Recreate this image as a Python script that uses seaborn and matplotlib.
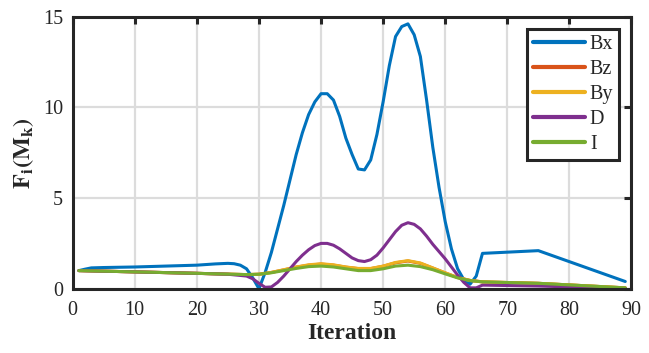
import numpy as np
import pandas as pd
import matplotlib
matplotlib.use('Agg')
import matplotlib.pyplot as plt
import seaborn as sns

# Values
bx_x = [1, 2, 3, 5, 10, 15, 20, 23, 25, 26, 27, 28, 29, 30, 31, 32, 33, 34, 35, 36, 37, 38, 39, 40,
        41, 42, 43, 44, 45, 46, 47, 48, 49, 50, 51, 52, 53, 54, 55, 56, 57, 58, 59, 60, 61, 62, 63,
        64, 65, 66, 75, 89]
bx_y = [1.0, 1.08, 1.15, 1.17, 1.2, 1.25, 1.3, 1.37, 1.4, 1.38, 1.3, 1.1, 0.6, 0.0, 0.9, 2.0, 3.3,
        4.6, 6.0, 7.4, 8.6, 9.6, 10.3, 10.75, 10.75, 10.4, 9.5, 8.3, 7.4, 6.6, 6.55, 7.1, 8.5, 10.3,
        12.3, 13.9, 14.45, 14.6, 14.0, 12.8, 10.4, 7.8, 5.6, 3.7, 2.2, 1.1, 0.5, 0.25, 0.7, 1.95,
        2.1, 0.4]

d_x = [1, 10, 20, 25, 28, 29, 30, 31, 32, 33, 34, 35, 36, 37, 38, 39, 40, 41, 42, 43, 44, 45, 46,
       47, 48, 49, 50, 51, 52, 53, 54, 55, 56, 57, 58, 59, 60, 61, 62, 63, 64, 65, 66, 75, 89]
d_y = [1.0, 0.93, 0.85, 0.8, 0.7, 0.55, 0.3, 0.08, 0.1, 0.35, 0.7, 1.1, 1.5, 1.85, 2.15, 2.38, 2.5,
       2.5, 2.4, 2.2, 1.95, 1.7, 1.55, 1.5, 1.6, 1.85, 2.25, 2.7, 3.15, 3.5, 3.64, 3.55, 3.3, 2.9,
       2.45, 2.05, 1.65, 1.2, 0.75, 0.35, 0.05, 0.05, 0.2, 0.15, 0.02]

s_x = [1, 10, 20, 28, 30, 32, 34, 36, 38, 40, 42, 44, 46, 48, 50, 52, 54, 56, 58, 60, 62, 64, 66,
       75, 89]
i_y = [1.0, 0.93, 0.85, 0.78, 0.8, 0.88, 1.0, 1.12, 1.22, 1.25, 1.2, 1.1, 1.0, 1.0, 1.1, 1.25,
       1.3, 1.22, 1.05, 0.82, 0.6, 0.45, 0.38, 0.3, 0.05]
by_y = [1.0, 0.93, 0.85, 0.78, 0.8, 0.9, 1.05, 1.2, 1.32, 1.38, 1.32, 1.2, 1.12, 1.12, 1.25, 1.45,
        1.55, 1.42, 1.15, 0.88, 0.62, 0.46, 0.38, 0.3, 0.05]
bz_y = [1.0, 0.93, 0.85, 0.78, 0.8, 0.9, 1.04, 1.19, 1.3, 1.36, 1.3, 1.19, 1.11, 1.11, 1.24, 1.43,
        1.53, 1.4, 1.14, 0.87, 0.62, 0.46, 0.38, 0.3, 0.05]

series = [('Bx', bx_x, bx_y, '#0072BD'),
          ('Bz', s_x, bz_y, '#D95319'),
          ('By', s_x, by_y, '#EDB120'),
          ('D', d_x, d_y, '#7E2F8E'),
          ('I', s_x, i_y, '#77AC30')]

sns.set_theme(style='whitegrid')
plt.rcParams['font.family'] = ['Liberation Serif', 'DejaVu Serif']
plt.rcParams['mathtext.fontset'] = 'stix'

fig = plt.figure(figsize=(6.49, 3.53), dpi=100)
ax = fig.add_axes([0.112, 0.182, 0.861, 0.771])

for name, xs, ys, c in series:
    df = pd.DataFrame({'Iteration': xs, 'F': ys})
    sns.lineplot(data=df, x='Iteration', y='F', ax=ax, color=c, linewidth=2.2, label=name,
                 estimator=None, sort=False)

ax.set_xlim(0, 90)
ax.set_ylim(0, 15)
ax.set_xticks(range(0, 91, 10))
ax.set_yticks([0, 5, 10, 15])
ax.grid(True, color='#dcdcdc', linewidth=1.6)
ax.set_facecolor('white')
for sp in ax.spines.values():
    sp.set_color('#262626')
    sp.set_linewidth(2.2)
ax.tick_params(direction='in', length=5, width=2.2, color='#262626', top=True, right=True,
               labelsize=14.5, labelcolor='#262626')
ax.tick_params(axis='x', pad=9)
ax.tick_params(axis='y', pad=7)
ax.set_xlabel('Iteration', fontsize=17, fontweight='bold', color='#262626', labelpad=2)
ax.set_ylabel(r'$\mathbf{F_i(M_k)}$', fontsize=17.5, color='#262626', labelpad=5)

leg = ax.legend(loc='upper right', fontsize=14.5, frameon=True, fancybox=False,
                borderpad=0.3, labelspacing=0.3, handlelength=2.55, handletextpad=0.25,
                borderaxespad=0.6)
leg.get_frame().set_edgecolor('#262626')
leg.get_frame().set_linewidth(2.2)
leg.get_frame().set_alpha(1)
for line in leg.get_lines():
    line.set_linewidth(3)

fig.savefig('out.png', dpi=100)
